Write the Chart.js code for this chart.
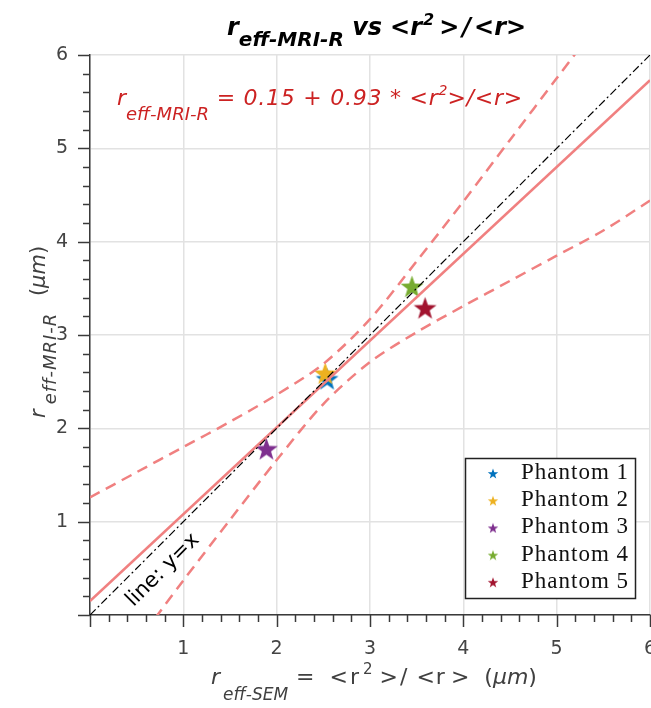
<!DOCTYPE html>
<html>
<head>
<meta charset="utf-8">
<script src="https://cdn.jsdelivr.net/npm/chart.js@4.4.1/dist/chart.umd.min.js"></script>
<style>
  html, body { margin: 0; padding: 0; background: #fff; }
</style>
</head>
<body>
<canvas id="radiusChart" width="651" height="708"></canvas>
<script>
const phantomNames = ['Phantom 1', 'Phantom 2', 'Phantom 3', 'Phantom 4', 'Phantom 5'];
const phantomX = [2.54, 2.52, 1.89, 3.45, 3.59];
const phantomY = [2.54, 2.60, 1.79, 3.53, 3.30];
const phantomColors = ['#0072BD', '#EDB120', '#7E2F8E', '#77AC30', '#A2142F'];

// fit line and its confidence band
const fitX = [0, 6];
const fitY = [0.15, 5.73];
const bandX = [0, 0.5, 1, 1.5, 2, 2.5, 3, 3.5, 4, 4.5, 5, 5.5, 6];
const bandUpper = [1.26, 1.53, 1.80, 2.07, 2.36, 2.69, 3.17, 3.79, 4.43, 5.09, 5.75, 6.41, 7.08];
const bandLower = [-0.96, -0.30, 0.37, 1.02, 1.66, 2.26, 2.71, 3.03, 3.31, 3.58, 3.85, 4.12, 4.44];

// identity line
const identX = [0, 6];
const identY = [0, 6];

const tickValues = [1, 2, 3, 4, 5, 6];

const textGrey = '#404040';
const fitColor = '#F08080';

function makeStar(color, size) {
    const c = document.createElement('canvas');
    c.width = size; c.height = size;
    const g = c.getContext('2d');
    const R = size / 2 - 0.5, r = R * 0.4;
    g.beginPath();
    for (let i = 0; i < 10; i++) {
        const a = -Math.PI / 2 + i * Math.PI / 5;
        const rr = i % 2 === 0 ? R : r;
        const px = size / 2 + rr * Math.cos(a), py = size / 2 + size * 0.08 + rr * Math.sin(a);
        if (i === 0) g.moveTo(px, py); else g.lineTo(px, py);
    }
    g.closePath();
    g.fillStyle = color;
    g.fill();
    return c;
}

function toPoints(xs, ys) {
    return xs.map((x, i) => ({ x: x, y: ys[i] }));
}

// rich text with sub/superscripts; gap = extra space before a part, ls = letter spacing
function richText(ctx, parts, x, y) {
    let cx = x;
    parts.forEach(p => {
        cx += p.gap || 0;
        ctx.font = p.font;
        if (!p.ls) {
            ctx.fillText(p.text, cx, y + (p.dy || 0));
            cx += ctx.measureText(p.text).width;
        } else {
            for (const ch of p.text) {
                ctx.fillText(ch, cx, y + (p.dy || 0));
                cx += ctx.measureText(ch).width + p.ls;
            }
        }
    });
    return cx - x;
}

const datasets = [];
datasets.push({
    label: 'identity', data: toPoints(identX, identY), showLine: true,
    borderColor: '#000', borderWidth: 1.2, borderDash: [8, 3, 2, 3],
    pointRadius: 0, order: 0
});
datasets.push({
    label: 'fit', data: toPoints(fitX, fitY), showLine: true,
    borderColor: fitColor, borderWidth: 2.5, pointRadius: 0, order: 1
});
datasets.push({
    label: 'upper', data: toPoints(bandX, bandUpper), showLine: true, tension: 0.3,
    borderColor: fitColor, borderWidth: 2.5, borderDash: [11, 7], pointRadius: 0, order: 1
});
datasets.push({
    label: 'lower', data: toPoints(bandX, bandLower), showLine: true, tension: 0.3,
    borderColor: fitColor, borderWidth: 2.5, borderDash: [11, 7], pointRadius: 0, order: 1
});
phantomNames.forEach((name, i) => {
    datasets.push({
        label: name,
        data: [{ x: phantomX[i], y: phantomY[i] }],
        pointStyle: makeStar(phantomColors[i], 25),
        legendStar: makeStar(phantomColors[i], 12),
        isPhantom: true,
        pointRadius: 10,
        order: 10 - i
    });
});

// minor/major tick marks, texts, legend
const decorPlugin = {
    id: 'decor',
    afterDraw(chart) {
        const ctx = chart.ctx;
        const xs = chart.scales.x, ys = chart.scales.y;
        const area = chart.chartArea;
        ctx.save();
        ctx.strokeStyle = '#3a3a3a';
        ctx.lineWidth = 1.5;
        for (let i = 0; i <= 30; i++) {
            const len = i % 5 === 0 ? 12 : 7;
            const px = Math.round(xs.getPixelForValue(i / 5)) + 0.5;
            ctx.beginPath(); ctx.moveTo(px, area.bottom); ctx.lineTo(px, area.bottom + len); ctx.stroke();
            const py = Math.round(ys.getPixelForValue(i / 5)) + 0.5;
            ctx.beginPath(); ctx.moveTo(area.left, py); ctx.lineTo(area.left - len, py); ctx.stroke();
        }

        // title
        ctx.fillStyle = '#000';
        ctx.textBaseline = 'alphabetic';
        const tb = 'bold italic 24px "DejaVu Sans"';
        richText(ctx, [
            { text: 'r', font: tb },
            { text: 'eff-MRI-R', font: 'bold italic 20px "DejaVu Sans"', dy: 11 },
            { text: ' vs', font: tb },
            { text: '<r', font: tb, gap: 8 },
            { text: '2', font: 'bold italic 16px "DejaVu Sans"', dy: -10, gap: 1 },
            { text: '>', font: tb, gap: 5 },
            { text: '/', font: tb, gap: 3 },
            { text: '<r>', font: tb, gap: 3 }
        ], 227, 35);

        // fit equation
        ctx.fillStyle = '#CC2222';
        const fe = 'italic 22px "DejaVu Sans"';
        richText(ctx, [
            { text: 'r', font: fe },
            { text: 'eff-MRI-R', font: 'italic 18px "DejaVu Sans"', dy: 15 },
            { text: ' = 0.15 + 0.93 * <r', font: fe, ls: 0.75 },
            { text: '2', font: 'italic 14px "DejaVu Sans"', dy: -10 },
            { text: '>/<r>', font: fe, ls: 0.75 }
        ], 117, 105);

        // identity label
        ctx.fillStyle = '#000';
        const p0 = { x: xs.getPixelForValue(0), y: ys.getPixelForValue(0) };
        const p1 = { x: xs.getPixelForValue(1), y: ys.getPixelForValue(1) };
        const ang = Math.atan2(p1.y - p0.y, p1.x - p0.x);
        ctx.save();
        ctx.translate(xs.getPixelForValue(0.78), ys.getPixelForValue(0.48));
        ctx.rotate(ang);
        ctx.font = '21px "DejaVu Sans"';
        ctx.textAlign = 'center';
        ctx.textBaseline = 'middle';
        ctx.fillText('line: y=x', 0, 0);
        ctx.restore();

        // axis titles
        ctx.fillStyle = textGrey;
        const xn = '22px "DejaVu Sans"', xi = 'italic 22px "DejaVu Sans"';
        richText(ctx, [
            { text: 'r', font: xi },
            { text: 'eff-SEM', font: 'italic 17px "DejaVu Sans"', dy: 16, gap: 3 },
            { text: '=', font: xn, gap: 8 },
            { text: '<', font: xn, gap: 15 },
            { text: 'r', font: xn, gap: 2 },
            { text: '2', font: '15px "DejaVu Sans"', dy: -10, gap: 4 },
            { text: '>', font: xn, gap: 7 },
            { text: '/', font: xn, gap: 2 },
            { text: '<', font: xn, gap: 9 },
            { text: 'r', font: xn, gap: 1 },
            { text: '>', font: xn, gap: 6 },
            { text: '(', font: xn, gap: 15 },
            { text: '\u03BCm', font: xi },
            { text: ')', font: xn }
        ], 211, 684);

        ctx.save();
        ctx.translate(45, 418);
        ctx.rotate(-Math.PI / 2);
        const yi = 'italic 21px "DejaVu Sans"', yn = '21px "DejaVu Sans"';
        richText(ctx, [
            { text: 'r', font: yi },
            { text: 'eff-MRI-R', font: 'italic 18px "DejaVu Sans"', dy: 11, ls: 1, gap: 5 },
            { text: ' (', font: yn, gap: 10 },
            { text: '\u03BCm', font: yi },
            { text: ')', font: yn }
        ], 0, 0);
        ctx.restore();

        // legend
        const phantoms = chart.data.datasets.filter(d => d.isPhantom);
        const bw = 170, bh = 140;
        const bx = area.right - 15 - bw, by = area.bottom - 17 - bh;
        ctx.fillStyle = '#fff';
        ctx.fillRect(bx, by, bw, bh);
        ctx.strokeStyle = '#222';
        ctx.lineWidth = 1.5;
        ctx.strokeRect(bx + 0.5, by + 0.5, bw, bh);
        ctx.textBaseline = 'middle';
        ctx.textAlign = 'left';
        phantoms.forEach((d, i) => {
            const cy = by + 15 + i * 27.2;
            ctx.drawImage(d.legendStar, bx + 28 - 6, cy - 6);
            ctx.fillStyle = '#111';
            richText(ctx, [{ text: d.label, font: '23px "Liberation Serif"', ls: 1 }], bx + 56, cy);
        });
        ctx.restore();
    }
};

const tickLabel = v => (tickValues.includes(v) ? String(v) : '');

new Chart(document.getElementById('radiusChart'), {
    type: 'scatter',
    data: { datasets: datasets },
    options: {
        responsive: false,
        animation: false,
        devicePixelRatio: 1,
        layout: { autoPadding: false, padding: { top: 55, right: 1, left: 0, bottom: 0 } },
        plugins: { legend: { display: false }, tooltip: { enabled: false } },
        scales: {
            x: {
                type: 'linear', min: 0, max: 6,
                ticks: { stepSize: 1, callback: tickLabel, padding: 23, color: '#444',
                         font: { family: 'DejaVu Sans', size: 19 } },
                grid: { color: '#e2e2e2', lineWidth: 1.5, drawTicks: false },
                border: { display: true, color: '#3a3a3a', width: 1.5 },
                afterFit(s) { s.height = 93; s.paddingLeft = 0; s.paddingRight = 0; }
            },
            y: {
                type: 'linear', min: 0, max: 6,
                ticks: { stepSize: 1, callback: tickLabel, padding: 22, color: '#444',
                         font: { family: 'DejaVu Sans', size: 19 } },
                grid: { color: '#e2e2e2', lineWidth: 1.5, drawTicks: false },
                border: { display: true, color: '#3a3a3a', width: 1.5 },
                afterFit(s) { s.width = 90; s.paddingTop = 0; s.paddingBottom = 0; }
            }
        }
    },
    plugins: [decorPlugin]
});
</script>
</body>
</html>
